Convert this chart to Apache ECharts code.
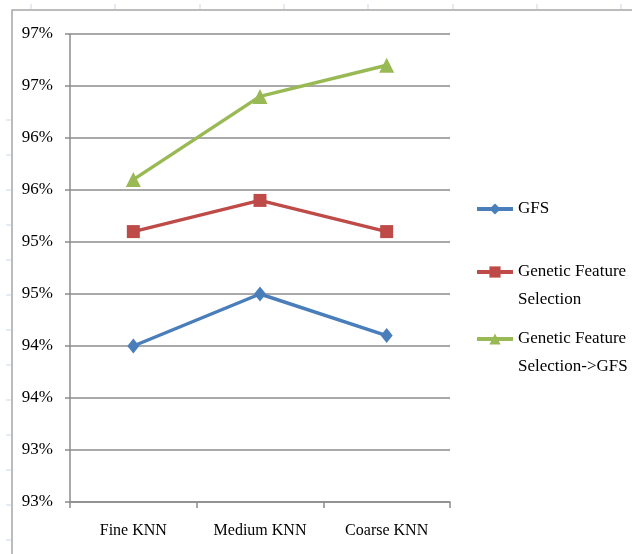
<!DOCTYPE html>
<html>
<head>
<meta charset="utf-8">
<script src="https://cdn.jsdelivr.net/npm/echarts@6/dist/echarts.min.js"></script>
<style>
  html, body { margin: 0; padding: 0; background: #fff; }
  #chart { width: 632px; height: 554px; }
</style>
</head>
<body>
<div id="chart"></div>
<script>
const categories = ['Fine KNN', 'Medium KNN', 'Coarse KNN']
const gfs = [94.0, 94.5, 94.1]
const geneticFS = [95.1, 95.4, 95.1]
const geneticToGfs = [95.6, 96.4, 96.7]

const seriesNames = ['GFS', 'Genetic Feature Selection', 'Genetic Feature Selection->GFS']
// leading blank line keeps the first text line level with the legend marker
const legendLabels = ['GFS', '\nGenetic Feature\nSelection', '\nGenetic Feature\nSelection->GFS']
const colors = ['#4a7ebb', '#be4b48', '#98b954']

const font = 'Liberation Serif'

function lineSeries(name, data, color, symbol, size) {
  return {
    name,
    type: 'line',
    data,
    symbol,
    symbolSize: size,
    lineStyle: { color, width: 3.5 },
    itemStyle: { color },
    emphasis: { disabled: true },
  }
}

function legendFor(idx, top) {
  return {
    data: [seriesNames[idx]],
    left: 475,
    top,
    itemWidth: 36,
    itemHeight: 14,
    itemGap: 4,
    padding: 0,
    selectedMode: false,
    lineStyle: { width: 4 },
    formatter: () => legendLabels[idx],
    textStyle: { fontFamily: font, fontSize: 17, color: '#000', lineHeight: 28 },
  }
}

// faint sheet markers peeking around the chart frame
const sheetMarks = []
for (let x = 31; x < 632; x += 84.3) {
  sheetMarks.push({ type: 'line', shape: { x1: Math.round(x), y1: 4, x2: Math.round(x), y2: 9 }, style: { stroke: '#dde4ef', lineWidth: 1.5 } })
}
for (let y = 120; y < 554; y += 35) {
  sheetMarks.push({ type: 'line', shape: { x1: 6, y1: y, x2: 11, y2: y }, style: { stroke: '#dde4ef', lineWidth: 1.5 } })
}

const chart = echarts.init(document.getElementById('chart'))
chart.setOption({
  animation: false,
  color: colors,
  grid: { left: 70, right: 182, top: 34, bottom: 52 },
  graphic: [
    ...sheetMarks,
    {
      type: 'polyline',
      shape: { points: [[12, 560], [12, 10], [640, 10]] },
      style: { stroke: '#a6a6a6', fill: null, lineWidth: 1.5 },
    },
  ],
  legend: [legendFor(0, 195), legendFor(1, 230), legendFor(2, 297)],
  xAxis: {
    type: 'category',
    data: categories,
    boundaryGap: true,
    axisLine: { lineStyle: { color: '#8c8c8c', width: 1.5 } },
    axisTick: { show: true, length: 6, lineStyle: { color: '#8c8c8c', width: 1.5 } },
    axisLabel: { fontFamily: font, fontSize: 16, color: '#000', margin: 21 },
  },
  yAxis: {
    type: 'value',
    min: 92.5,
    max: 97,
    interval: 0.5,
    axisLine: { show: true, lineStyle: { color: '#8c8c8c', width: 1.5 } },
    axisTick: { show: true, length: 5, lineStyle: { color: '#8c8c8c', width: 1.5 } },
    axisLabel: {
      fontFamily: font,
      fontSize: 17,
      color: '#000',
      margin: 17,
      formatter: (v) => Math.round(v) + '%',
    },
    splitLine: { lineStyle: { color: '#8c8c8c', width: 1.5 } },
  },
  series: [
    lineSeries(seriesNames[0], gfs, colors[0], 'diamond', [12, 15]),
    lineSeries(seriesNames[1], geneticFS, colors[1], 'rect', 13),
    lineSeries(seriesNames[2], geneticToGfs, colors[2], 'triangle', 15),
  ],
})
</script>
</body>
</html>
